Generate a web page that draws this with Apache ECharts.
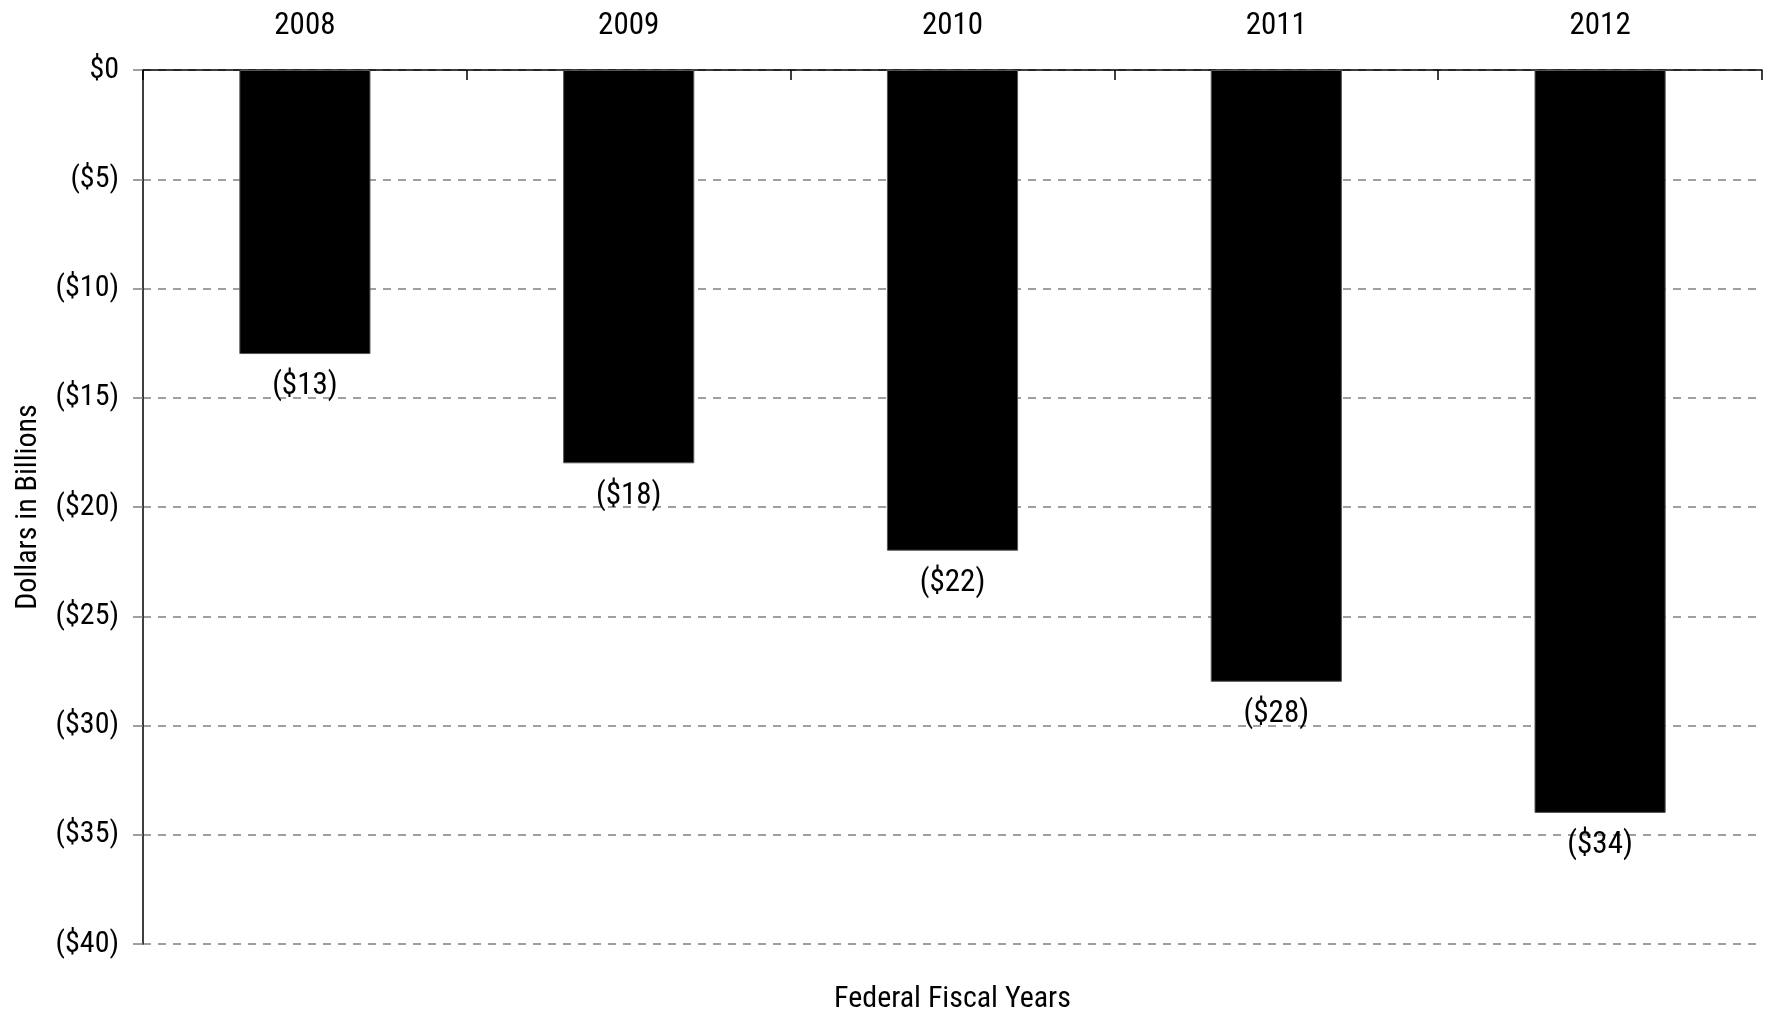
<!DOCTYPE html>
<html>
<head>
<meta charset="utf-8">
<script src="https://cdn.jsdelivr.net/npm/echarts@6/dist/echarts.min.js"></script>
<style>
  html, body { margin: 0; padding: 0; background: #fff; }
  #chart { width: 1769px; height: 1013px; }
</style>
</head>
<body>
<div id="chart"></div>
<script>
// Fiscal years and the change in dollars (billions) for each
const years = ['2008', '2009', '2010', '2011', '2012'];
const values = [-13, -18, -22, -28, -34];
const yMin = -40;
const yMax = 0;
const yStep = 5;

const FONT = '"Roboto Condensed", "Liberation Sans Narrow", "DejaVu Sans Condensed", sans-serif';

function money(v) {
  return v === 0 ? '$0' : '($' + Math.abs(v) + ')';
}

const chart = echarts.init(document.getElementById('chart'), null, { renderer: 'canvas' });

chart.setOption({
  animation: false,
  backgroundColor: '#ffffff',
  grid: { left: 143, right: 7, top: 70, bottom: 69, containLabel: false, outerBoundsMode: 'none' },
  xAxis: [{
    // category axis drawn along the top edge
    type: 'category',
    data: years,
    position: 'top',
    axisLine: { show: true, lineStyle: { color: '#000', width: 1.5 } },
    axisTick: { show: true, inside: true, length: 10, lineStyle: { color: '#000', width: 1.5 } },
    axisLabel: { fontFamily: FONT, fontSize: 31, color: '#000', margin: 28 },
    splitLine: { show: false }
  }, {
    // bottom axis only carries the title
    type: 'category',
    data: years,
    position: 'bottom',
    name: 'Federal Fiscal Years',
    nameLocation: 'middle',
    nameGap: 40,
    nameTextStyle: { fontFamily: FONT, fontSize: 30, color: '#000' },
    axisLine: { show: false },
    axisTick: { show: false },
    axisLabel: { show: false },
    splitLine: { show: false }
  }],
  yAxis: {
    type: 'value',
    min: yMin,
    max: yMax,
    interval: yStep,
    name: 'Dollars in Billions',
    nameLocation: 'middle',
    nameRotate: 90,
    nameGap: 100,
    nameTextStyle: { fontFamily: FONT, fontSize: 30, color: '#000' },
    axisLine: { show: true, lineStyle: { color: '#000', width: 1.5 } },
    axisTick: { show: true, length: 10, lineStyle: { color: '#808080', width: 1.5 } },
    axisLabel: { fontFamily: FONT, fontSize: 30, color: '#000', margin: 24, formatter: money },
    splitLine: { show: true, lineStyle: { color: '#808080', width: 1.5, type: [8, 7] } }
  },
  series: [{
    type: 'bar',
    xAxisIndex: 0,
    data: values,
    barWidth: '40.5%',
    itemStyle: { color: '#000', borderColor: '#555', borderWidth: 1 },
    label: {
      show: true,
      position: 'bottom',
      distance: 17,
      fontFamily: FONT,
      fontSize: 31,
      color: '#000',
      formatter: p => money(p.value)
    }
  }]
});
</script>
</body>
</html>
